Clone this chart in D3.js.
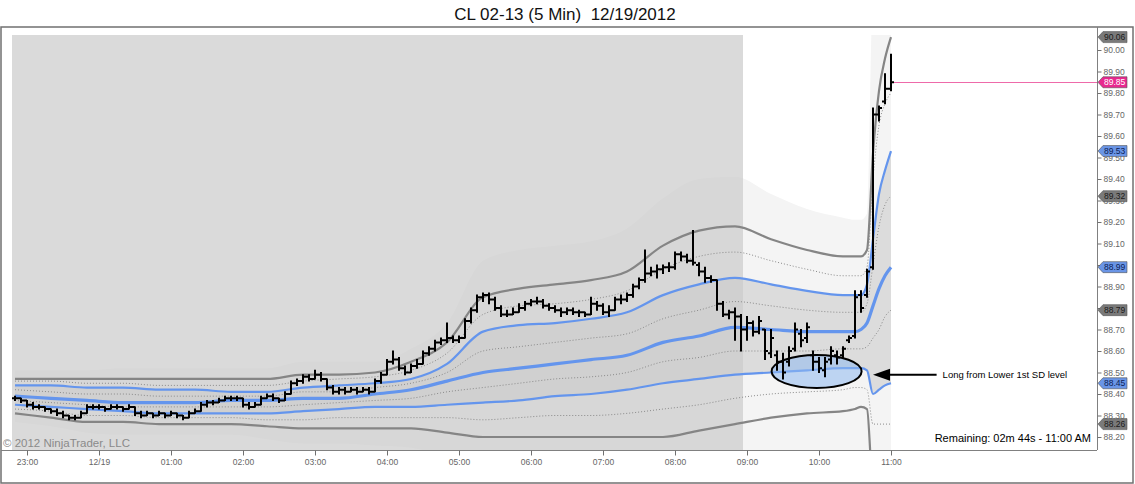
<!DOCTYPE html>
<html>
<head>
<meta charset="utf-8">
<script src="https://cdn.jsdelivr.net/npm/d3@7/dist/d3.min.js"></script>
<style>
  body { margin: 0; background: #fff; }
  svg { display: block; font-family: "Liberation Sans", Arial, sans-serif; }
</style>
</head>
<body>
<script>
// 5 minute bars, first bar 22:50 on 12/18, last bar 11:00 on 12/19
var firstBar = new Date(2012, 11, 18, 22, 50);
var opens = [
  88.38,88.38,88.37,88.35,88.34,88.34,88.33,88.32,88.31,88.30,
  88.29,88.29,88.31,88.34,88.34,88.34,88.33,88.34,88.34,88.33,
  88.34,88.31,88.30,88.31,88.30,88.31,88.30,88.31,88.30,88.29,
  88.31,88.32,88.35,88.36,88.36,88.37,88.38,88.38,88.38,88.35,
  88.34,88.35,88.38,88.39,88.38,88.37,88.40,88.45,88.46,88.48,
  88.47,88.49,88.47,88.43,88.41,88.42,88.41,88.42,88.41,88.42,
  88.41,88.46,88.49,88.55,88.56,88.52,88.50,88.53,88.54,88.59,
  88.61,88.64,88.65,88.66,88.65,88.66,88.74,88.79,88.85,88.86,
  88.84,88.80,88.77,88.77,88.78,88.80,88.82,88.83,88.83,88.81,
  88.80,88.79,88.78,88.79,88.78,88.78,88.77,88.82,88.81,88.78,
  88.79,88.84,88.84,88.86,88.90,88.93,88.96,88.97,88.98,88.99,
  88.99,89.05,89.04,89.02,89.00,88.97,88.94,88.93,88.82,88.77,
  88.78,88.76,88.70,88.73,88.69,88.70,88.59,88.58,88.55,88.55,
  88.61,88.68,88.66,88.58,88.55,88.51,88.56,88.58,88.58,88.65,
  88.67,88.86,88.86,88.99,89.70,89.76,89.82];
var highs = [
  88.39,88.38,88.37,88.36,88.35,88.34,88.33,88.33,88.32,88.30,
  88.30,88.32,88.35,88.35,88.35,88.34,88.35,88.35,88.34,88.35,
  88.34,88.32,88.32,88.31,88.32,88.31,88.32,88.31,88.30,88.32,
  88.33,88.36,88.37,88.37,88.38,88.39,88.39,88.39,88.38,88.36,
  88.36,88.39,88.40,88.40,88.38,88.41,88.46,88.47,88.49,88.49,
  88.51,88.50,88.47,88.44,88.43,88.43,88.43,88.43,88.43,88.43,
  88.47,88.50,88.56,88.60,88.57,88.53,88.54,88.56,88.60,88.62,
  88.65,88.66,88.73,88.67,88.67,88.75,88.80,88.86,88.87,88.87,
  88.85,88.81,88.79,88.80,88.82,88.83,88.84,88.85,88.84,88.82,
  88.81,88.80,88.80,88.80,88.79,88.78,88.85,88.83,88.82,88.81,
  88.85,88.86,88.87,88.91,88.94,89.07,88.99,89.00,89.00,89.01,
  89.06,89.06,89.05,89.16,89.01,88.99,88.95,88.93,88.83,88.79,
  88.80,88.77,88.76,88.74,88.76,88.70,88.70,88.60,88.59,88.62,
  88.73,88.70,88.73,88.60,88.57,88.57,88.62,88.60,88.62,88.67,
  88.88,88.88,88.98,89.73,89.74,89.89,89.98];
var lows = [
  88.37,88.36,88.34,88.33,88.33,88.32,88.31,88.30,88.29,88.28,
  88.28,88.29,88.31,88.33,88.33,88.32,88.33,88.33,88.32,88.33,
  88.30,88.29,88.30,88.29,88.30,88.29,88.30,88.29,88.28,88.29,
  88.31,88.32,88.34,88.35,88.36,88.37,88.37,88.37,88.34,88.33,
  88.34,88.35,88.38,88.37,88.36,88.37,88.40,88.44,88.45,88.46,
  88.47,88.46,88.42,88.40,88.40,88.40,88.41,88.40,88.41,88.40,
  88.41,88.45,88.49,88.54,88.51,88.49,88.50,88.52,88.54,88.58,
  88.60,88.63,88.64,88.64,88.64,88.66,88.73,88.78,88.83,88.82,
  88.79,88.76,88.76,88.77,88.78,88.79,88.81,88.82,88.80,88.79,
  88.78,88.76,88.77,88.77,88.76,88.76,88.77,88.79,88.77,88.76,
  88.79,88.82,88.83,88.85,88.89,88.92,88.95,88.94,88.96,88.97,
  88.98,89.02,89.01,89.00,88.95,88.92,88.92,88.79,88.76,88.75,
  88.65,88.60,88.65,88.67,88.68,88.56,88.57,88.51,88.47,88.53,
  88.60,88.62,88.64,88.51,88.50,88.48,88.54,88.54,88.57,88.64,
  88.66,88.78,88.85,88.98,89.67,89.75,89.81];
var closes = [
  88.38,88.37,88.35,88.34,88.34,88.33,88.32,88.31,88.30,88.29,
  88.29,88.31,88.34,88.34,88.34,88.33,88.34,88.34,88.33,88.34,
  88.31,88.30,88.31,88.30,88.31,88.30,88.31,88.30,88.29,88.31,
  88.32,88.35,88.36,88.36,88.37,88.38,88.38,88.38,88.35,88.34,
  88.35,88.38,88.39,88.38,88.37,88.40,88.45,88.46,88.48,88.47,
  88.49,88.47,88.43,88.41,88.42,88.41,88.42,88.41,88.42,88.41,
  88.46,88.49,88.55,88.56,88.52,88.50,88.53,88.54,88.59,88.61,
  88.64,88.65,88.66,88.65,88.66,88.74,88.79,88.85,88.86,88.84,
  88.80,88.77,88.77,88.78,88.80,88.82,88.83,88.83,88.81,88.80,
  88.79,88.78,88.79,88.78,88.78,88.77,88.82,88.81,88.78,88.79,
  88.84,88.84,88.86,88.90,88.93,88.96,88.97,88.98,88.99,88.99,
  89.05,89.04,89.02,89.01,88.97,88.94,88.93,88.82,88.77,88.78,
  88.76,88.70,88.73,88.69,88.74,88.60,88.66,88.55,88.50,88.60,
  88.70,88.65,88.71,88.55,88.52,88.55,88.60,88.57,88.61,88.66,
  88.85,88.80,88.97,89.70,89.73,89.82,89.85];

// VWAP and deviation bands, read at these bar numbers
var bandBars = [0,6,12,18,24,30,36,42,48,54,60,66,72,78,84,90,96,102,108,114,120,126,132,138,140,141,142,143,144,145,146];
var bandU3 = [88.51,88.51,88.51,88.52,88.52,88.52,88.52,88.52,88.55,88.55,88.55,88.61,88.73,89.02,89.07,89.09,89.11,89.17,89.31,89.40,89.41,89.33,89.26,89.22,89.21,89.21,89.24,90.30,90.40,90.50,90.60];
var bandU2 = [88.47,88.47,88.47,88.47,88.47,88.47,88.47,88.47,88.49,88.49,88.50,88.55,88.64,88.85,88.89,88.91,88.93,88.97,89.09,89.16,89.18,89.12,89.07,89.04,89.04,89.04,89.07,89.52,89.81,89.96,90.06];
var bandD1 = [88.46,88.46,88.45,88.45,88.44,88.44,88.44,88.44,88.46,88.47,88.48,88.51,88.59,88.77,88.81,88.82,88.84,88.88,88.98,89.04,89.06,89.02,88.98,88.95,88.95,88.95,88.99,89.40,89.65,89.75,89.80];
var bandU1 = [88.44,88.44,88.43,88.43,88.42,88.42,88.41,88.41,88.43,88.44,88.45,88.47,88.54,88.69,88.72,88.73,88.75,88.78,88.86,88.91,88.94,88.91,88.88,88.86,88.86,88.86,88.91,89.12,89.33,89.44,89.53];
var bandD2 = [88.42,88.41,88.40,88.40,88.39,88.39,88.39,88.39,88.41,88.41,88.43,88.45,88.50,88.60,88.62,88.64,88.66,88.68,88.75,88.79,88.83,88.81,88.79,88.78,88.78,88.78,88.82,89.00,89.18,89.28,89.32];
var bandVwap = [88.39,88.38,88.37,88.36,88.36,88.36,88.37,88.37,88.38,88.38,88.40,88.42,88.46,88.50,88.52,88.54,88.56,88.58,88.64,88.67,88.71,88.70,88.69,88.69,88.69,88.70,88.73,88.81,88.89,88.95,88.99];
var bandD3 = [88.37,88.36,88.35,88.34,88.34,88.34,88.34,88.34,88.35,88.36,88.37,88.38,88.41,88.43,88.45,88.47,88.48,88.50,88.55,88.57,88.60,88.60,88.60,88.61,88.61,88.61,88.62,88.66,88.70,88.76,88.79];
var bandL1 = [88.35,88.34,88.33,88.32,88.31,88.31,88.31,88.31,88.32,88.33,88.34,88.34,88.35,88.36,88.37,88.39,88.40,88.42,88.45,88.47,88.49,88.50,88.51,88.52,88.52,88.52,88.51,88.40,88.42,88.44,88.45];
var bandD4 = [88.33,88.32,88.30,88.30,88.29,88.29,88.29,88.28,88.28,88.29,88.29,88.29,88.29,88.28,88.29,88.30,88.30,88.31,88.33,88.35,88.38,88.40,88.41,88.42,88.43,88.43,88.42,88.26,88.26,88.26,88.26];
var bandL2 = [88.31,88.29,88.27,88.27,88.26,88.26,88.26,88.25,88.24,88.24,88.24,88.24,88.22,88.20,88.20,88.20,88.20,88.20,88.20,88.23,88.26,88.29,88.31,88.32,88.33,88.34,88.33,87.95,87.90,87.88,87.86];
var bandL3 = [88.27,88.25,88.22,88.21,88.21,88.21,88.21,88.19,88.17,88.17,88.16,88.15,88.10,88.00,88.00,87.99,87.99,87.99,87.98,87.99,88.00,88.07,88.12,88.14,88.14,88.14,88.12,87.50,87.40,87.30,87.20];

// right axis flags: last values of the plots
var flagValues = [90.06, 89.53, 89.32, 88.99, 88.79, 88.45, 88.26];
var flagKinds  = ["gray", "blue", "gray", "blue", "gray", "blue", "gray"];
var lastPrice = 89.85;
var priceTicks = [88.20,88.30,88.40,88.50,88.60,88.70,88.80,88.90,89.00,89.10,89.20,89.30,89.40,89.50,89.60,89.70,89.80,89.90,90.00];
var shadeFrom = new Date(2012, 11, 18, 22, 47, 30);
var shadeTo = new Date(2012, 11, 19, 8, 56, 40);

var width = 1135, height = 484;
var plotLeft = 1, plotRight = 1097, plotTop = 27, plotBottom = 450, dataTop = 35;

var times = closes.map(function(d, i) { return d3.timeMinute.offset(firstBar, 5 * i); });

var x = d3.scaleTime()
  .domain([new Date(2012, 11, 18, 23, 0), new Date(2012, 11, 19, 11, 0)])
  .range([27, 891]);
var y = d3.scaleLinear().domain([88.20, 90.00]).range([437, 50]);

var svg = d3.select("body").append("svg")
  .attr("width", width)
  .attr("height", height);

var defs = svg.append("defs");
defs.append("clipPath").attr("id", "plotClip")
  .append("rect")
  .attr("x", plotLeft).attr("y", plotTop)
  .attr("width", plotRight - plotLeft).attr("height", plotBottom - plotTop);
defs.append("clipPath").attr("id", "fillClip")
  .append("rect")
  .attr("x", plotLeft).attr("y", dataTop)
  .attr("width", plotRight - plotLeft).attr("height", plotBottom - dataTop);

// title
svg.append("text")
  .attr("x", 565).attr("y", 20)
  .attr("text-anchor", "middle")
  .attr("font-size", "17px")
  .attr("fill", "#111")
  .attr("xml:space", "preserve")
  .text("CL 02-13 (5 Min)  12/19/2012");

var bands = bandBars.map(function(b, k) {
  return {
    t: times[b],
    u3: bandU3[k], u2: bandU2[k], d1: bandD1[k], u1: bandU1[k], d2: bandD2[k],
    v: bandVwap[k], d3: bandD3[k], l1: bandL1[k], d4: bandD4[k], l2: bandL2[k], l3: bandL3[k]
  };
});

var fills = svg.append("g").attr("clip-path", "url(#fillClip)");
function bandArea(top, bottom) {
  return d3.area()
    .curve(d3.curveMonotoneX)
    .x(function(d) { return x(d.t); })
    .y0(function(d) { return y(d[bottom]); })
    .y1(function(d) { return y(d[top]); });
}
fills.append("path").datum(bands)
  .attr("d", bandArea("u3", "l3"))
  .attr("fill", "#f4f4f4");
fills.append("path").datum(bands)
  .attr("d", bandArea("u1", "l1"))
  .attr("fill", "#dcdcdc");

// shaded session block
svg.append("rect")
  .attr("x", x(shadeFrom)).attr("y", dataTop)
  .attr("width", x(shadeTo) - x(shadeFrom))
  .attr("height", plotBottom - dataTop)
  .attr("fill", "rgb(203,203,203)")
  .attr("fill-opacity", 0.71);

var lines = svg.append("g").attr("clip-path", "url(#plotClip)");
function bandLine(key) {
  return d3.line()
    .curve(d3.curveMonotoneX)
    .x(function(d) { return x(d.t); })
    .y(function(d) { return y(d[key]); });
}
var lineStyles = [
  { key: "d1", color: "#8a8a8a", w: 1, dash: "1,2" },
  { key: "d2", color: "#8a8a8a", w: 1, dash: "1,2" },
  { key: "d3", color: "#8a8a8a", w: 1, dash: "1,2" },
  { key: "d4", color: "#8a8a8a", w: 1, dash: "1,2" },
  { key: "u2", color: "#858585", w: 2.2, dash: null },
  { key: "l2", color: "#858585", w: 2.2, dash: null },
  { key: "u1", color: "#6495ed", w: 2.2, dash: null },
  { key: "l1", color: "#6495ed", w: 2.2, dash: null },
  { key: "v",  color: "#6495ed", w: 3.2, dash: null }
];
lineStyles.forEach(function(s) {
  lines.append("path").datum(bands)
    .attr("d", bandLine(s.key))
    .attr("fill", "none")
    .attr("stroke", s.color)
    .attr("stroke-width", s.w)
    .attr("stroke-dasharray", s.dash);
});

// annotation ellipse around the lower band touch
var noteTime = new Date(2012, 11, 19, 9, 58);
lines.append("ellipse")
  .attr("cx", x(noteTime)).attr("cy", y(88.505))
  .attr("rx", 45).attr("ry", 16.5)
  .attr("fill", "#8fbaf0").attr("fill-opacity", 0.55)
  .attr("stroke", "#000").attr("stroke-width", 2);

// last price line
lines.append("line")
  .attr("x1", x(times[times.length - 1]) + 2).attr("x2", plotRight)
  .attr("y1", Math.round(y(lastPrice)) + 0.5).attr("y2", Math.round(y(lastPrice)) + 0.5)
  .attr("stroke", "#ee6aaa").attr("stroke-width", 1);

// OHLC bars
var bars = closes.map(function(c, i) {
  return { t: times[i], o: opens[i], h: highs[i], l: lows[i], c: c };
});
lines.append("g").selectAll("path")
  .data(bars)
  .enter()
  .append("path")
  .attr("d", function(d) {
    var cx = x(d.t);
    return "M" + cx + "," + (y(d.h) - 0.5) + "V" + (y(d.l) + 0.5) +
      "M" + (cx - 3) + "," + y(d.o) + "H" + cx +
      "M" + cx + "," + y(d.c) + "H" + (cx + 3);
  })
  .attr("fill", "none")
  .attr("stroke", "#000")
  .attr("stroke-width", 2);

// arrow and note
var arrowTip = x(new Date(2012, 11, 19, 10, 45));
var arrowY = y(88.49);
var noteX = x(new Date(2012, 11, 19, 11, 43));
svg.append("line")
  .attr("x1", arrowTip + 14).attr("x2", noteX - 6)
  .attr("y1", arrowY).attr("y2", arrowY)
  .attr("stroke", "#000").attr("stroke-width", 2);
svg.append("path")
  .attr("d", "M" + arrowTip + "," + arrowY + "L" + (arrowTip + 17) + "," + (arrowY - 6) +
    "L" + (arrowTip + 17) + "," + (arrowY + 6) + "Z")
  .attr("fill", "#000");
svg.append("text")
  .attr("x", noteX).attr("y", arrowY + 3)
  .attr("font-size", "9.5px")
  .attr("fill", "#000")
  .text("Long from Lower 1st SD level");

// frame and axes
svg.append("rect")
  .attr("x", 1).attr("y", 27).attr("width", 1132).attr("height", 456)
  .attr("fill", "none").attr("stroke", "#707070").attr("stroke-width", 1.5);
svg.append("line")
  .attr("x1", plotRight + 0.5).attr("x2", plotRight + 0.5)
  .attr("y1", plotTop).attr("y2", plotBottom)
  .attr("stroke", "#808080");
svg.append("line")
  .attr("x1", plotLeft).attr("x2", plotRight)
  .attr("y1", plotBottom + 0.5).attr("y2", plotBottom + 0.5)
  .attr("stroke", "#808080");

var yAxis = d3.axisRight(y)
  .tickValues(priceTicks)
  .tickSize(4)
  .tickFormat(d3.format(".2f"));
var yg = svg.append("g")
  .attr("transform", "translate(" + (plotRight + 0.5) + ",0)")
  .call(yAxis);
yg.select(".domain").remove();
yg.selectAll("line").attr("stroke", "#707070");
yg.selectAll("text")
  .attr("x", 6)
  .attr("font-size", "8.5px")
  .attr("font-family", "Liberation Sans, Arial, sans-serif")
  .attr("fill", "#666");

var hourTicks = d3.timeHour.range(new Date(2012, 11, 18, 23, 0), new Date(2012, 11, 19, 11, 30));
var xAxis = d3.axisBottom(x)
  .tickValues(hourTicks)
  .tickSize(5)
  .tickFormat(function(d) {
    return d.getHours() === 0 ? d3.timeFormat("%m/%d")(d) : d3.timeFormat("%H:%M")(d);
  });
var xg = svg.append("g")
  .attr("transform", "translate(0," + (plotBottom + 0.5) + ")")
  .call(xAxis);
xg.select(".domain").remove();
xg.selectAll("line").attr("stroke", "#707070");
xg.selectAll("text")
  .attr("y", 8)
  .attr("font-size", "8.5px")
  .attr("font-family", "Liberation Sans, Arial, sans-serif")
  .attr("fill", "#666");

// value flags on the price axis
var flagColors = {
  gray: { fill: "#7a7a7a", text: "#1a1a1a" },
  blue: { fill: "#6a95e6", text: "#0b1d55" },
  pink: { fill: "#e8288f", text: "#ffffff" }
};
var flagData = flagValues.map(function(v, i) { return { v: v, kind: flagKinds[i] }; });
flagData.push({ v: lastPrice, kind: "pink" });
var flags = svg.append("g").selectAll("g")
  .data(flagData)
  .enter()
  .append("g")
  .attr("transform", function(d) { return "translate(" + (plotRight + 1) + "," + y(d.v) + ")"; });
flags.append("path")
  .attr("d", "M0,0L5,-5.5H29V5.5H5Z")
  .attr("fill", function(d) { return flagColors[d.kind].fill; })
  .attr("stroke", "#555")
  .attr("stroke-width", 0.6);
flags.append("text")
  .attr("x", 6).attr("y", 3)
  .attr("font-size", "8.5px")
  .attr("fill", function(d) { return flagColors[d.kind].text; })
  .text(function(d) { return d3.format(".2f")(d.v); });

// corner texts
svg.append("text")
  .attr("x", 3).attr("y", 447)
  .attr("font-size", "11.5px")
  .attr("fill", "#8a8a8a")
  .text("\u00a9 2012 NinjaTrader, LLC");
svg.append("text")
  .attr("x", 1091).attr("y", 442)
  .attr("text-anchor", "end")
  .attr("font-size", "11px")
  .attr("fill", "#000")
  .text("Remaining: 02m 44s - 11:00 AM");
</script>
</body>
</html>
